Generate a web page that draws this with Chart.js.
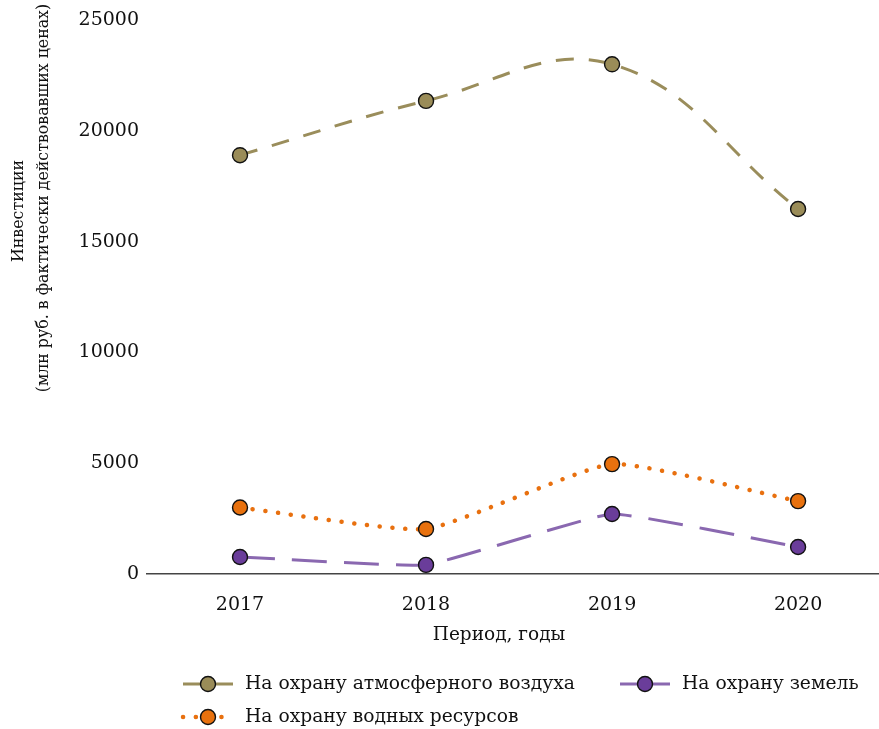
<!DOCTYPE html>
<html lang="ru">
<head>
  <meta charset="UTF-8">
  <title>Инвестиции в охрану окружающей среды</title>
  <script src="https://cdn.jsdelivr.net/npm/chart.js"></script>
  <style>
    html, body { margin: 0; padding: 0; background: #fff; overflow: hidden; }
    canvas { display: block; }
  </style>
</head>
<body>
  <canvas id="chart" width="879" height="729"></canvas>

  <script>
    // данные
    const years = [2017, 2018, 2019, 2020];
    const air = [18900, 21350, 23000, 16470];
    const water = [3000, 2030, 4960, 3290];
    const land = [770, 410, 2710, 1220];
    const yTicks = [0, 5000, 10000, 15000, 20000, 25000];

    const names = ["На охрану атмосферного воздуха", "На охрану водных ресурсов", "На охрану земель"];
    const xTitle = "Период, годы";
    const yTitle = ["Инвестиции", "(млн руб. в фактически действовавших ценах)"];

    const FONT = "'DejaVu Serif', serif";

    const pts = vals => years.map((x, i) => ({ x, y: vals[i] }));

    // подписи осей и легенда рисуются отдельно
    const decor = {
      id: 'decor',
      afterDraw(chart) {
        const ctx = chart.ctx;
        ctx.save();
        ctx.fillStyle = '#111';
        ctx.textAlign = 'center';
        ctx.textBaseline = 'middle';
        ctx.font = `18.5px ${FONT}`;
        ctx.fillText(xTitle, 499, 635);

        ctx.font = `15.8px ${FONT}`;
        ctx.save();
        ctx.translate(19, 211);
        ctx.rotate(-Math.PI / 2);
        ctx.fillText(yTitle[0], 0, 0);
        ctx.restore();
        ctx.save();
        ctx.translate(44, 198);
        ctx.rotate(-Math.PI / 2);
        ctx.fillText(yTitle[1], 0, 0);
        ctx.restore();

        // легенда: [индекс набора, x начала линии, y]
        ctx.font = `18.7px ${FONT}`;
        const items = [[0, 183, 684], [2, 620, 684], [1, 183, 717]];
        items.forEach(([di, x0, y]) => {
          const ds = chart.data.datasets[di];
          ctx.save();
          ctx.strokeStyle = ds.borderColor;
          ctx.lineWidth = ds.borderWidth;
          ctx.lineCap = ds.borderCapStyle || 'butt';
          ctx.setLineDash(di === 1 ? ds.borderDash : []);
          ctx.beginPath();
          ctx.moveTo(x0, y);
          ctx.lineTo(x0 + 50, y);
          ctx.stroke();
          ctx.setLineDash([]);
          ctx.beginPath();
          ctx.arc(x0 + 25, y, ds.pointRadius, 0, Math.PI * 2);
          ctx.fillStyle = ds.pointBackgroundColor;
          ctx.fill();
          ctx.lineWidth = ds.pointBorderWidth;
          ctx.strokeStyle = ds.pointBorderColor;
          ctx.stroke();
          ctx.restore();
          ctx.textAlign = 'left';
          ctx.fillText(ds.label, x0 + 62, y);
        });
        ctx.restore();
      }
    };

    const base = {
      fill: false,
      pointRadius: 7.5,
      pointHoverRadius: 7.5,
      pointBorderColor: '#111',
      pointBorderWidth: 1.4
    };

    new Chart(document.getElementById('chart'), {
      type: 'line',
      data: {
        datasets: [
          { ...base, label: names[0], data: pts(air), tension: 0.4, borderColor: '#9a8d5b', borderWidth: 3,
            borderDash: [18, 15], pointBackgroundColor: '#9a8c58' },
          { ...base, label: names[1], data: pts(water), tension: 0.15, borderColor: '#e8700f', borderWidth: 4.5,
            borderDash: [0.1, 12.7], borderCapStyle: 'round', pointBackgroundColor: '#e8710e' },
          { ...base, label: names[2], data: pts(land), tension: 0.1, borderColor: '#8a68b0', borderWidth: 3,
            borderDash: [35, 17], pointBackgroundColor: '#6a3d9a' }
        ]
      },
      options: {
        responsive: false,
        animation: false,
        devicePixelRatio: 1,
        layout: { autoPadding: false, padding: { left: 0, top: 20, right: 0, bottom: 0 } },
        plugins: { legend: { display: false }, tooltip: { enabled: false } },
        scales: {
          x: {
            type: 'linear',
            min: 2016.5,
            max: 2020.435,
            afterFit: s => { s.height = 155; s.paddingLeft = 0; s.paddingRight = 0; },
            afterBuildTicks: s => { s.ticks = years.map(v => ({ value: v })); },
            grid: { display: false, drawTicks: false },
            border: { display: true, color: '#444', width: 1.5 },
            ticks: { padding: 20, color: '#111', font: { family: FONT, size: 19 },
                     callback: v => String(v) }
          },
          y: {
            min: 0,
            max: 25000,
            afterFit: s => { s.width = 147; },
            afterBuildTicks: s => { s.ticks = yTicks.map(v => ({ value: v })); },
            grid: { display: false, drawTicks: false },
            border: { display: false },
            ticks: { padding: 8, color: '#111', font: { family: FONT, size: 19 },
                     callback: v => String(v) }
          }
        }
      },
      plugins: [decor]
    });
  </script>
</body>
</html>
